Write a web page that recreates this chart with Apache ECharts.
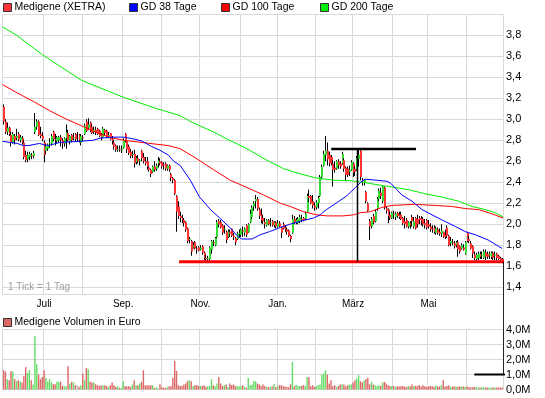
<!DOCTYPE html>
<html><head><meta charset="utf-8">
<script src="https://cdn.jsdelivr.net/npm/echarts@6/dist/echarts.min.js"></script>
<style>html,body{margin:0;padding:0;background:#fff}#c{width:545px;height:398px}</style>
</head><body><div id="c"></div>
<script>
// ---- tick labels ----
const monthStarts = [0, 22, 43, 65, 86, 107, 129, 149, 170, 190, 212, 231, 252];
const monthLabels = ['', 'Juli', '', 'Sep.', '', 'Nov.', '', 'Jan.', '', 'März', '', 'Mai', ''];

// ---- daily prices (EUR) ----
const open = [
3.12,2.98,2.88,2.92,2.85,2.78,2.84,2.82,2.86,2.80,
2.82,2.78,2.66,2.62,2.64,2.66,2.65,2.88,2.93,2.98,
2.86,2.84,2.78,2.70,2.72,2.77,2.77,2.88,2.81,2.79,
2.80,2.83,2.80,2.77,2.82,2.87,2.79,2.85,2.82,2.86,
2.82,2.85,2.78,2.83,2.86,2.98,2.92,2.97,2.93,2.88,
2.90,2.91,2.89,2.85,2.83,2.90,2.89,2.84,2.87,2.81,
2.78,2.75,2.71,2.72,2.71,2.73,2.86,2.79,2.74,2.69,
2.66,2.67,2.59,2.63,2.60,2.70,2.64,2.60,2.60,2.54,
2.52,2.50,2.55,2.53,2.58,2.60,2.59,2.57,2.58,2.53,
2.56,2.48,2.44,2.42,2.27,2.17,2.08,2.06,2.04,2.02,
1.96,1.85,1.84,1.78,1.83,1.77,1.78,1.76,1.79,1.73,
1.68,1.67,1.67,1.76,1.83,1.80,1.88,2.03,2.02,1.99,
1.95,1.93,1.88,1.93,1.96,1.89,1.87,1.86,1.91,1.90,
1.94,1.92,1.99,1.93,2.02,2.07,2.17,2.22,2.24,2.14,
2.09,2.06,2.02,1.99,2.04,2.01,2.03,1.99,2.02,1.98,
2.01,1.97,2.00,1.97,1.95,1.94,1.89,1.92,2.05,2.02,
2.01,2.03,2.05,2.06,2.05,2.12,2.27,2.27,2.22,2.18,
2.16,2.20,2.27,2.45,2.56,2.66,2.70,2.66,2.64,2.58,
2.54,2.53,2.60,2.58,2.58,2.61,2.54,2.53,2.50,2.52,
2.58,2.53,2.52,2.62,2.70,2.42,2.40,2.31,2.20,2.03,
1.98,2.08,2.03,2.15,2.24,2.30,2.22,2.35,2.15,2.14,
2.09,2.06,2.10,2.07,2.11,2.09,2.09,2.06,2.03,2.04,
1.98,2.01,2.07,1.98,2.06,2.05,2.06,2.06,2.05,2.01,
2.04,2.00,1.98,1.96,1.97,1.92,1.95,1.93,1.91,1.93,
1.90,1.97,1.89,1.82,1.83,1.82,1.80,1.83,1.79,1.77,
1.78,1.72,1.92,1.86,1.82,1.79,1.71,1.67,1.68,1.72,
1.70,1.68,1.73,1.72,1.70,1.69,1.73,1.70,1.72,1.70,
1.68,1.67];
const high = [
3.14,3.00,2.97,2.93,2.88,2.88,2.86,2.91,2.88,2.85,
2.84,2.80,2.70,2.69,2.69,2.68,2.70,3.06,3.00,2.99,
2.93,2.88,2.80,2.76,2.77,2.82,2.86,2.89,2.86,2.84,
2.84,2.85,2.82,2.83,2.95,2.90,2.85,2.86,2.87,2.87,
2.88,2.86,2.86,2.85,2.96,3.00,3.01,2.98,2.95,2.93,
2.93,2.92,2.90,2.87,2.93,2.91,2.90,2.88,2.87,2.84,
2.80,2.76,2.75,2.75,2.75,2.82,2.87,2.80,2.76,2.72,
2.70,2.71,2.65,2.66,2.62,2.71,2.68,2.64,2.64,2.55,
2.53,2.56,2.60,2.58,2.64,2.63,2.60,2.59,2.59,2.57,
2.57,2.49,2.45,2.43,2.28,2.22,2.12,2.09,2.06,2.03,
1.97,1.88,1.85,1.83,1.84,1.79,1.79,1.80,1.80,1.74,
1.71,1.70,1.79,1.85,1.85,1.88,2.04,2.05,2.04,2.00,
1.99,1.94,1.95,1.95,1.96,1.92,1.88,1.93,1.95,1.96,
1.98,1.97,2.00,2.01,2.14,2.18,2.22,2.28,2.26,2.16,
2.15,2.09,2.06,2.05,2.05,2.06,2.04,2.03,2.03,2.04,
2.03,1.98,2.02,1.99,1.97,1.95,1.90,2.09,2.08,2.06,
2.07,2.09,2.09,2.07,2.12,2.29,2.33,2.28,2.28,2.21,
2.23,2.27,2.47,2.57,2.70,2.84,2.78,2.69,2.66,2.61,
2.60,2.61,2.62,2.60,2.69,2.63,2.55,2.55,2.56,2.61,
2.59,2.55,2.65,2.71,2.71,2.44,2.43,2.32,2.21,2.05,
2.07,2.10,2.14,2.26,2.34,2.35,2.37,2.36,2.17,2.15,
2.12,2.12,2.13,2.12,2.12,2.12,2.12,2.07,2.08,2.06,
2.03,2.03,2.09,2.07,2.07,2.09,2.08,2.08,2.07,2.05,
2.05,2.04,2.01,1.99,1.99,1.98,1.97,1.96,2.00,1.93,
1.95,1.99,1.90,1.88,1.86,1.84,1.84,1.85,1.80,1.82,
1.81,1.84,1.93,1.89,1.84,1.80,1.74,1.73,1.74,1.74,
1.74,1.76,1.76,1.74,1.74,1.74,1.74,1.74,1.73,1.71,
1.69,1.68];
const low = [
2.95,2.86,2.85,2.84,2.74,2.77,2.76,2.80,2.79,2.78,
2.76,2.62,2.59,2.59,2.61,2.62,2.63,2.86,2.90,2.84,
2.82,2.79,2.59,2.67,2.70,2.73,2.75,2.79,2.75,2.77,
2.78,2.74,2.72,2.74,2.72,2.79,2.76,2.78,2.80,2.79,
2.79,2.78,2.75,2.79,2.85,2.88,2.90,2.88,2.86,2.86,
2.85,2.85,2.83,2.80,2.82,2.84,2.82,2.82,2.80,2.76,
2.71,2.69,2.69,2.69,2.68,2.72,2.78,2.68,2.66,2.63,
2.63,2.54,2.57,2.58,2.56,2.60,2.58,2.56,2.52,2.50,
2.45,2.49,2.50,2.51,2.54,2.56,2.53,2.52,2.51,2.51,
2.50,2.41,2.39,2.28,1.93,2.05,2.02,2.01,1.98,1.93,
1.82,1.82,1.70,1.77,1.76,1.72,1.74,1.75,1.71,1.66,
1.65,1.65,1.65,1.72,1.79,1.79,1.87,1.97,1.96,1.90,
1.91,1.82,1.87,1.88,1.88,1.85,1.80,1.85,1.88,1.88,
1.88,1.89,1.88,1.92,2.01,2.05,2.13,2.15,2.13,2.05,
2.01,2.00,1.96,1.98,1.99,1.98,1.98,1.97,1.96,1.97,
1.97,1.87,1.95,1.93,1.90,1.88,1.83,1.91,2.00,2.00,
2.00,2.01,2.02,2.03,2.04,2.11,2.21,2.19,2.15,2.13,
2.14,2.15,2.26,2.43,2.55,2.60,2.56,2.55,2.56,2.36,
2.49,2.52,2.53,2.53,2.57,2.50,2.41,2.45,2.46,2.51,
2.45,2.46,2.51,2.55,2.42,2.37,2.37,2.20,2.12,1.85,
1.96,2.00,2.02,2.13,2.22,2.24,2.20,2.14,2.10,2.01,
2.04,2.05,2.05,2.04,2.06,2.05,2.04,1.99,1.96,1.97,
1.96,1.96,1.98,1.96,1.95,1.97,2.00,1.99,1.98,1.96,
1.95,1.96,1.93,1.92,1.91,1.90,1.90,1.89,1.88,1.87,
1.86,1.87,1.79,1.79,1.80,1.77,1.78,1.69,1.72,1.76,
1.75,1.71,1.83,1.82,1.76,1.68,1.66,1.65,1.66,1.67,
1.67,1.67,1.66,1.67,1.67,1.67,1.66,1.66,1.66,1.66,
1.65,1.63];
const close = [
2.98,2.88,2.92,2.86,2.78,2.86,2.80,2.84,2.81,2.83,
2.78,2.64,2.61,2.66,2.67,2.65,2.68,2.93,2.98,2.85,
2.84,2.81,2.66,2.74,2.76,2.78,2.84,2.81,2.80,2.83,
2.83,2.80,2.77,2.82,2.88,2.80,2.84,2.80,2.83,2.81,
2.82,2.80,2.84,2.82,2.94,2.89,2.95,2.89,2.87,2.90,
2.88,2.86,2.84,2.83,2.91,2.87,2.83,2.85,2.81,2.79,
2.74,2.71,2.72,2.71,2.72,2.80,2.80,2.71,2.68,2.65,
2.67,2.58,2.63,2.60,2.61,2.63,2.60,2.58,2.55,2.52,
2.48,2.55,2.52,2.56,2.61,2.58,2.55,2.56,2.53,2.56,
2.52,2.44,2.42,2.29,2.12,2.08,2.06,2.04,2.01,1.95,
1.84,1.86,1.74,1.80,1.77,1.76,1.75,1.78,1.73,1.68,
1.67,1.68,1.78,1.84,1.82,1.87,2.02,2.00,1.97,1.92,
1.96,1.85,1.93,1.91,1.89,1.88,1.83,1.91,1.92,1.95,
1.93,1.96,1.90,2.00,2.10,2.16,2.20,2.24,2.15,2.08,
2.04,2.03,2.00,2.04,2.00,2.02,1.99,2.02,1.98,2.01,
1.98,1.92,1.96,1.95,1.93,1.89,1.86,2.05,2.02,2.04,
2.05,2.07,2.04,2.04,2.10,2.27,2.25,2.20,2.18,2.16,
2.21,2.25,2.45,2.55,2.67,2.70,2.62,2.58,2.58,2.52,
2.52,2.60,2.56,2.55,2.67,2.53,2.47,2.47,2.52,2.59,
2.49,2.50,2.63,2.66,2.45,2.41,2.42,2.22,2.13,1.98,
2.05,2.02,2.12,2.24,2.32,2.27,2.36,2.16,2.13,2.08,
2.06,2.11,2.09,2.10,2.08,2.07,2.05,2.01,2.00,1.98,
2.02,1.99,2.03,2.03,1.96,2.00,2.04,2.03,2.00,1.99,
1.97,1.98,1.95,1.95,1.93,1.96,1.92,1.91,1.94,1.88,
1.88,1.89,1.80,1.84,1.82,1.79,1.83,1.76,1.74,1.80,
1.76,1.83,1.84,1.84,1.77,1.72,1.68,1.71,1.72,1.69,
1.71,1.74,1.69,1.69,1.72,1.73,1.68,1.71,1.68,1.67,
1.66,1.64];

// ---- daily volume (million EUR) ----
const volume = [
1.29,1.2,0.69,0.62,1.22,1.2,0.69,0.55,0.62,0.55,
0.47,0.91,1.49,1.1,1.29,0.62,0.33,3.57,1.69,1.0,
0.69,0.84,1.29,0.78,0.51,0.69,0.47,0.35,0.35,0.51,
0.51,0.51,0.24,0.22,0.22,1.55,0.4,0.51,0.47,0.29,
0.29,0.18,0.29,1.07,0.62,1.44,1.35,0.51,0.47,0.47,
0.35,0.29,0.24,0.29,0.29,0.29,0.24,0.17,0.29,0.47,
0.29,0.17,0.22,0.11,0.11,0.55,0.24,0.2,0.22,0.17,
0.33,0.62,0.29,0.29,0.4,0.51,1.29,0.29,0.29,0.29,
0.29,0.29,0.11,0.15,0.06,0.35,0.15,0.11,0.11,0.15,
0.22,0.22,0.78,1.91,1.24,0.29,0.24,0.24,0.33,0.4,
0.55,0.62,0.55,0.24,0.29,0.29,0.24,0.24,0.24,0.29,
0.17,0.22,0.24,0.69,0.29,0.22,0.4,0.84,0.4,0.24,
0.29,0.33,0.17,0.4,0.29,0.33,0.22,0.22,0.22,0.22,
0.29,0.17,0.11,0.78,0.29,0.33,0.55,0.55,0.4,0.35,
0.24,0.33,0.24,0.17,0.17,0.15,0.2,0.35,0.17,0.22,
0.29,0.29,0.22,0.2,0.17,0.15,0.35,1.84,0.22,0.31,
0.24,0.24,0.24,0.29,0.24,0.84,0.82,0.22,0.29,0.17,
0.22,0.29,0.33,1.0,1.07,1.29,1.0,0.4,0.62,0.22,
0.29,0.17,0.24,0.33,0.35,0.33,0.2,0.29,0.33,0.33,
0.47,0.62,0.73,0.95,0.55,0.47,0.62,0.69,0.78,0.35,
0.51,0.33,0.29,0.24,0.29,0.24,0.47,0.51,0.4,0.29,
0.24,0.24,0.24,0.17,0.22,0.2,0.22,0.24,0.2,0.17,
0.24,0.2,0.33,0.24,0.24,0.22,0.29,0.2,0.29,0.22,
0.17,0.2,0.24,0.22,0.17,0.29,0.2,0.2,0.29,0.62,
0.2,0.24,0.29,0.17,0.2,0.2,0.2,0.17,0.2,0.2,
0.2,0.17,0.2,0.15,0.15,0.15,0.17,0.15,0.15,0.13,
0.15,0.15,0.13,0.13,0.13,0.13,0.13,0.13,0.13,0.13,
0.13,0.13];

// ---- moving averages: [trading-day position, value] ----
const gd38 = [[0,2.79],[4,2.78],[8,2.77],[11,2.75],[14,2.75],[17,2.76],[20,2.77],[22,2.76],[25,2.75],[31,2.78],[42,2.79],[49,2.80],[53,2.82],[60,2.83],[66,2.83],[72,2.81],[76,2.79],[81,2.74],[85,2.71],[90,2.66],[93,2.60],[96.5,2.56],[102,2.42],[107,2.26],[113,2.14],[118,2.06],[124,1.96],[128,1.88],[130,1.86],[135.5,1.86],[140,1.90],[145,1.93],[151,1.97],[156,2.00],[162,2.03],[169,2.06],[172.6,2.09],[176,2.14],[182,2.21],[187,2.27],[191.7,2.35],[195.3,2.41],[197,2.43],[203,2.42],[209,2.41],[211,2.39],[217,2.28],[222.5,2.22],[228,2.14],[233.4,2.09],[239,2.04],[246,1.98],[251.5,1.93],[257,1.90],[264,1.85],[271.5,1.77]];
const gd100 = [[0,3.33],[8,3.25],[16.7,3.17],[25.7,3.08],[34.8,3.00],[43.9,2.93],[52.9,2.86],[60,2.82],[66,2.80],[80,2.77],[90,2.75],[96.5,2.72],[105,2.63],[114.6,2.52],[123.7,2.42],[132.8,2.35],[141.8,2.28],[151,2.20],[156.3,2.17],[163.5,2.12],[170.8,2.09],[176.3,2.08],[185,2.08],[190.8,2.09],[194.4,2.11],[200,2.12],[206,2.16],[211.6,2.18],[224,2.19],[235,2.18],[244,2.17],[251.5,2.15],[258.8,2.14],[266,2.10],[272,2.06]];
const gd200 = [[0,3.88],[7.6,3.80],[22,3.61],[43,3.37],[65.6,3.21],[84,3.10],[96.5,3.035],[103,2.97],[114.6,2.88],[121,2.82],[132.8,2.72],[143.6,2.61],[152.6,2.53],[161.7,2.48],[170.8,2.44],[180,2.42],[189,2.415],[196,2.40],[202.5,2.38],[209.8,2.36],[220.7,2.33],[229.8,2.29],[238.8,2.26],[247.9,2.22],[255.2,2.17],[262.4,2.14],[267.8,2.11],[272,2.07]];

// ---- drawn trend lines: [trading-day position, value] ----
const supportLine = [[95.9,1.644],[272.5,1.644]];
const topLine = [[178.6,2.717],[224.7,2.717]];
const topDrop = [[192.9,2.717],[192.9,1.644]];
const rightDrop = [[272.5,1.644],[272.5,0.571]];
const volMark = [[256.4,1.0],[288.5,1.0]];

const days = open.map((_, i) => i);
const FONT = 'Liberation Sans, Arial, sans-serif';
const UP = '#33dd33', DOWN = '#ff3333';
const GRID_C = '#d9d9d9';
const monthSet = new Set(monthStarts);
const labelMap = {};
monthStarts.forEach((m, k) => { if (monthLabels[k]) labelMap[m] = monthLabels[k]; });

const candleData = days.map(i => [i, open[i], close[i], low[i], high[i]]);

function renderCandle(params, api) {
  const i = api.value(0);
  const o = api.value(1), c = api.value(2), l = api.value(3), h = api.value(4);
  const pH = api.coord([i, h]), pL = api.coord([i, l]);
  const pO = api.coord([i, o]), pC = api.coord([i, c]);
  const x = Math.floor(pH[0]);
  const children = [{type: 'rect', shape: {x: x, y: pH[1], width: 1, height: Math.max(1, pL[1] - pH[1])}, style: {fill: '#000'}}];
  if (c !== o) {
    const top = Math.min(pO[1], pC[1]), bot = Math.max(pO[1], pC[1]);
    children.push({type: 'rect', shape: {x: x, y: top, width: 2, height: Math.max(1, bot - top)}, style: {fill: c > o ? UP : DOWN}});
  }
  return {type: 'group', children: children};
}

function legendItem(left, top, name, color) {
  return {
    left: left, top: top, padding: 0, itemGap: 0, icon: 'rect', itemWidth: 8, itemHeight: 8,
    selectedMode: false,
    textStyle: {fontSize: 10.5, color: '#000', fontFamily: FONT, padding: [0, 0, 0, -2]},
    data: [{name: name, itemStyle: {color: color, borderColor: '#333', borderWidth: 1}}]
  };
}

const catAxis = (gridIndex, showLabels) => ({
  type: 'category', gridIndex: gridIndex, data: days, boundaryGap: true,
  axisLine: {show: false}, axisTick: {show: false},
  axisLabel: showLabels ? {
    show: true, interval: (i) => labelMap[i] !== undefined, formatter: (v, i) => labelMap[i] || '',
    fontSize: 10, color: '#000', fontFamily: FONT, margin: 5
  } : {show: false},
  splitLine: {show: true, interval: (i) => monthSet.has(i), lineStyle: {color: GRID_C, width: 1}}
});

const chart = echarts.init(document.getElementById('c'), null, {renderer: 'canvas'});
chart.setOption({
  animation: false,
  backgroundColor: '#fff',
  title: {text: '1 Tick = 1 Tag', left: 8, top: 282, padding: 0,
    textStyle: {fontSize: 10, color: '#a0a0a0', fontWeight: 'normal', fontFamily: FONT}},
  legend: [
    legendItem(3, 2, 'Medigene (XETRA)', '#ff3333'),
    legendItem(129, 2, 'GD 38 Tage', '#0000ff'),
    legendItem(221, 2, 'GD 100 Tage', '#ff0000'),
    legendItem(320, 2, 'GD 200 Tage', '#00ee00'),
    legendItem(3, 317, 'Medigene Volumen in Euro', '#dd6666')
  ],
  grid: [
    {left: 2.7, right: 42, top: 14.3, height: 280, containLabel: false},
    {left: 2.7, right: 42, top: 329.5, height: 60, containLabel: false}
  ],
  xAxis: [
    catAxis(0, true),
    {type: 'value', gridIndex: 0, min: 0, max: 272, show: false},
    catAxis(1, false),
    {type: 'value', gridIndex: 1, min: 0, max: 272, show: false}
  ],
  yAxis: [
    {type: 'value', gridIndex: 0, position: 'right', min: 4 - 280 / 105, max: 4,
      splitNumber: 13, minInterval: 0.2, maxInterval: 0.2,
      axisLine: {show: true, lineStyle: {color: GRID_C}}, axisTick: {show: false},
      axisLabel: {showMinLabel: false, showMaxLabel: false, fontSize: 11, color: '#000', fontFamily: FONT, margin: 3,
        formatter: (v) => v.toFixed(1).replace('.', ',')},
      splitLine: {show: true, lineStyle: {color: GRID_C, width: 1}}},
    {type: 'value', gridIndex: 1, position: 'right', min: 0, max: 4, interval: 1,
      axisLine: {show: true, lineStyle: {color: GRID_C}}, axisTick: {show: false},
      axisLabel: {fontSize: 11, color: '#000', fontFamily: FONT, margin: 3,
        formatter: (v) => v.toFixed(1).replace('.', ',') + 'M'},
      splitLine: {show: true, lineStyle: {color: GRID_C, width: 1}}}
  ],
  series: [
    {name: 'Medigene (XETRA)', type: 'custom', xAxisIndex: 0, yAxisIndex: 0, renderItem: renderCandle,
      itemStyle: {color: '#ff3333'}, encode: {x: 0, y: [1, 2, 3, 4]}, data: candleData, z: 2, silent: true},
    {name: 'GD 200 Tage', type: 'line', xAxisIndex: 1, yAxisIndex: 0, data: gd200, showSymbol: false, symbol: 'none',
      lineStyle: {color: '#00ee00', width: 1}, itemStyle: {color: '#00ee00'}, z: 3, silent: true},
    {name: 'GD 100 Tage', type: 'line', xAxisIndex: 1, yAxisIndex: 0, data: gd100, showSymbol: false, symbol: 'none',
      lineStyle: {color: '#ff0000', width: 1}, itemStyle: {color: '#ff0000'}, z: 3, silent: true},
    {name: 'GD 38 Tage', type: 'line', xAxisIndex: 1, yAxisIndex: 0, data: gd38, showSymbol: false, symbol: 'none',
      lineStyle: {color: '#0000ff', width: 1}, itemStyle: {color: '#0000ff'}, z: 3, silent: true},
    {name: 'Medigene Volumen in Euro', type: 'bar', xAxisIndex: 2, yAxisIndex: 1, data: volume, barWidth: 1.4,
      itemStyle: {color: (p) => close[p.dataIndex] > open[p.dataIndex] ? '#66dd66' : (close[p.dataIndex] < open[p.dataIndex] ? '#dd6666' : '#c0c0c0')},
      silent: true},
    {type: 'line', xAxisIndex: 1, yAxisIndex: 0, data: supportLine, symbol: 'none', lineStyle: {color: '#ff0000', width: 3}, z: 5, silent: true},
    {type: 'line', xAxisIndex: 1, yAxisIndex: 0, data: topLine, symbol: 'none', lineStyle: {color: '#000', width: 2.5}, z: 5, silent: true},
    {type: 'line', xAxisIndex: 1, yAxisIndex: 0, data: topDrop, symbol: 'none', lineStyle: {color: '#000', width: 1.5}, z: 5, silent: true},
    {type: 'line', xAxisIndex: 1, yAxisIndex: 0, data: rightDrop, symbol: 'none', clip: false, lineStyle: {color: '#000', width: 1.5}, z: 5, silent: true},
    {type: 'line', xAxisIndex: 3, yAxisIndex: 1, data: volMark, symbol: 'none', clip: false, lineStyle: {color: '#000', width: 2}, z: 5, silent: true}
  ]
});
</script>
</body></html>
